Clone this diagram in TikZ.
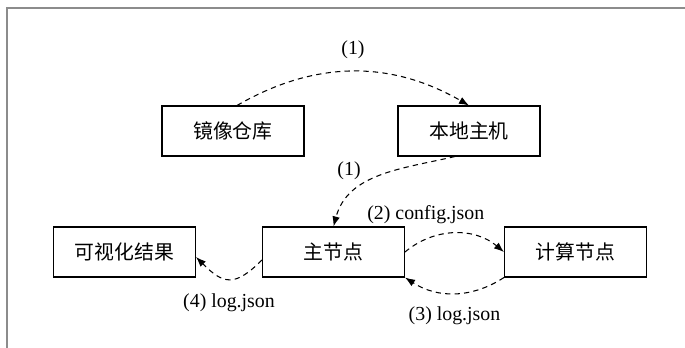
\documentclass[tikz,border=0pt]{standalone}
\usepackage{fontspec}
\setmainfont{Liberation Serif}
\newfontfamily\cjk{Noto Sans CJK SC}
\usetikzlibrary{calc, positioning, arrows.meta}

\begin{document}
\begin{tikzpicture}[
  box/.style={draw=black, line width=0.6pt, minimum width=2.84cm, minimum height=1.0cm,
              font=\cjk\fontsize{11.3}{13}\selectfont},
  flow/.style={draw=black, line width=0.6pt, dash pattern=on 3pt off 2.4pt,
               -{Latex[length=2mm, width=1.5mm]}},
  lab/.style={font=\fontsize{11.3}{13}\selectfont, inner sep=1pt},
  frame/.style={draw=black!45, line width=0.9pt}
]

\useasboundingbox (0,0) rectangle (13.7,6.96);
\draw[frame] (0.14,0) -- (0.14,6.80) -- (13.7,6.80);

\def\yt{4.34}
\def\yb{1.92}

\node[box] (repo) at (4.66, \yt) {镜像仓库};
\node[box] (host) at (9.38, \yt) {本地主机};
\node[box] (master) at (6.67, \yb) {主节点};
\node[box] (worker) at (11.51, \yb) {计算节点};
\node[box] (vis) at (2.49, \yb) {可视化结果};

% pull image, then copy to master
\draw[flow] ([xshift=0.08cm]repo.north) to[bend left=30]
  node[lab, midway, above=2.2mm] {(1)} (host.north);
\draw[flow] ([xshift=-0.28cm]host.south) to[out=193, in=75]
  node[lab, pos=0.62, above left=0.5mm] {(1)} (master.north);

% master <-> worker
\draw[flow] (master.east) to[bend left=40]
  node[lab, pos=0.22, above=2.6mm] {(2) config.json} (worker.west);
\draw[flow] (worker.south west) to[bend left=33]
  node[lab, midway, below=2.2mm] {(3) log.json} (master.south east);

% results
\draw[flow] ([yshift=-0.16cm]master.west) to[out=-135, in=-45, looseness=1.5]
  node[lab, midway, below=2.4mm] {(4) log.json} ([yshift=-0.1cm]vis.east);

\end{tikzpicture}
\end{document}
